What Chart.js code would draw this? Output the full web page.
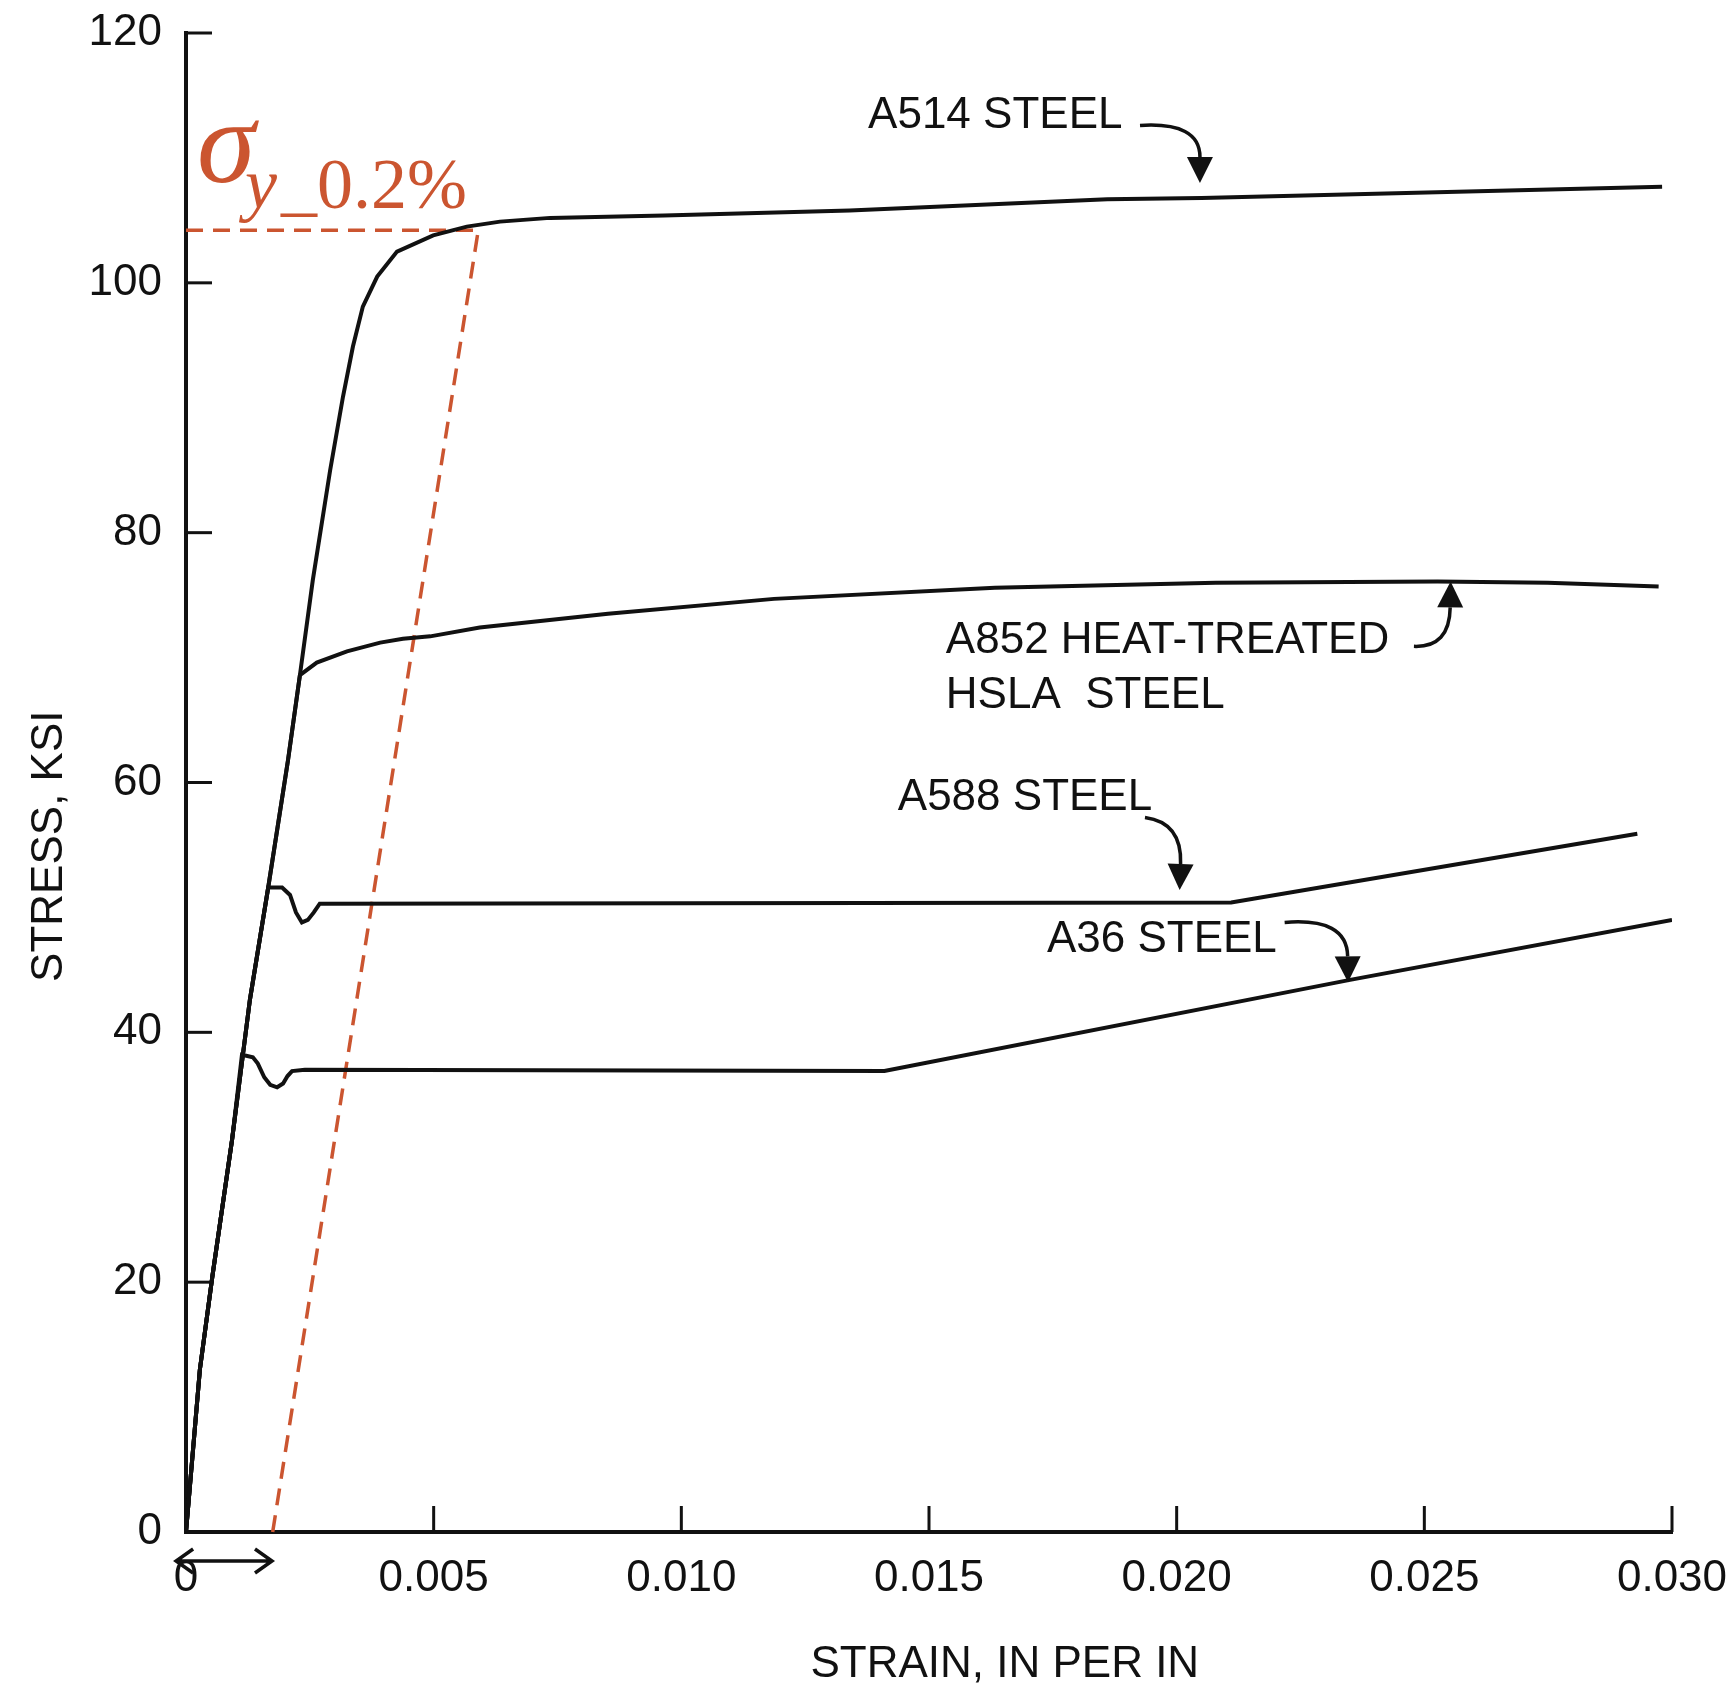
<!DOCTYPE html>
<html>
<head>
<meta charset="utf-8">
<script src="https://cdn.jsdelivr.net/npm/chart.js@4.4.1/dist/chart.umd.min.js"></script>
<style>
  html, body { margin: 0; padding: 0; background: #fff; }
  canvas { display: block; }
</style>
</head>
<body>
<canvas id="chart-canvas" width="1734" height="1689"></canvas>
<script>
// Values (strain in in/in, stress in ksi)
const xTicks = [0, 0.005, 0.010, 0.015, 0.020, 0.025, 0.030];
const yTicks = [0, 20, 40, 60, 80, 100, 120];

const a514Strain = [0, 0.00028, 0.00053, 0.00093, 0.00129, 0.00166, 0.00206, 0.00230, 0.00256, 0.00291, 0.00317, 0.00337, 0.00357, 0.00386, 0.00426, 0.00499, 0.00567, 0.00634, 0.00735, 0.00965, 0.0134, 0.0186, 0.0205, 0.0298];
const a514Stress = [0, 13.0, 20.4, 31.4, 42.6, 51.6, 61.8, 68.6, 76.2, 85.0, 90.9, 94.9, 98.1, 100.5, 102.5, 103.8, 104.5, 104.9, 105.2, 105.4, 105.8, 106.7, 106.8, 107.7];

const a852Strain = [0, 0.00028, 0.00053, 0.00093, 0.00129, 0.00166, 0.00206, 0.00230, 0.00264, 0.00325, 0.00392, 0.00438, 0.00493, 0.00593, 0.00852, 0.01187, 0.01633, 0.02079, 0.02527, 0.02749, 0.02973];
const a852Stress = [0, 13.0, 20.4, 31.4, 42.6, 51.6, 61.8, 68.6, 69.6, 70.5, 71.2, 71.5, 71.7, 72.4, 73.5, 74.7, 75.6, 76.0, 76.1, 76.0, 75.7];

const a588Strain = [0, 0.00028, 0.00053, 0.00093, 0.00129, 0.00166, 0.00194, 0.00210, 0.00222, 0.00234, 0.00246, 0.00258, 0.00270, 0.0211, 0.0293];
const a588Stress = [0, 13.0, 20.4, 31.4, 42.6, 51.6, 51.6, 51.0, 49.6, 48.8, 49.0, 49.6, 50.3, 50.4, 55.9];

const a36Strain = [0, 0.00028, 0.00053, 0.00093, 0.00113, 0.00135, 0.00145, 0.00158, 0.00170, 0.00184, 0.00196, 0.00205, 0.00214, 0.00240, 0.0141, 0.0235, 0.0300];
const a36Stress = [0, 13.0, 20.4, 31.4, 38.2, 38.0, 37.5, 36.4, 35.8, 35.6, 35.9, 36.5, 36.9, 37.0, 36.9, 44.2, 49.0];

// red 0.2% offset construction
const yieldStrain = [0, 0.0059];
const yieldStress = [104.2, 104.2];
const offsetStrain = [0.00175, 0.0059];
const offsetStress = [0, 104.2];

const INK = '#111111';
const RED = '#CB5530';
const SANS = '"Liberation Sans", Arial, Helvetica, sans-serif';
const SERIF = '"Liberation Serif", "Times New Roman", serif';

function toPoints(xs, ys){
    return xs.map((x, i) => ({x: x, y: ys[i]}));
}

function curve(label, xs, ys){
    return {
        label: label,
        data: toPoints(xs, ys),
        borderColor: INK,
        borderWidth: 4,
        pointRadius: 0,
        tension: 0,
        fill: false
    };
}

function dashed(label, xs, ys){
    return {
        label: label,
        data: toPoints(xs, ys),
        borderColor: RED,
        borderWidth: 3.5,
        borderDash: [17, 10],
        pointRadius: 0,
        tension: 0,
        fill: false,
        clip: false
    };
}

// Annotation anchors, in data units (strain, stress)
const steelLabels = [
    {text: 'A514 STEEL', at: [0.01377, 113.4]},
    {text: 'A852 HEAT-TREATED', at: [0.01534, 71.3]},
    {text: 'HSLA  STEEL', at: [0.01534, 66.9]},
    {text: 'A588 STEEL', at: [0.01437, 58.8]},
    {text: 'A36 STEEL', at: [0.01738, 47.4]}
];
// start, control, tip
const leaders = [
    [[0.01926, 112.6], [0.02047, 112.9], [0.02047, 108.0]],
    [[0.02479, 70.9], [0.02551, 70.8], [0.02553, 76.1]],
    [[0.01936, 57.2], [0.02011, 56.8], [0.02006, 51.4]],
    [[0.02218, 48.8], [0.02344, 49.2], [0.02346, 44.0]]
];

// tick marks drawn on the inside of the axes, like the original
const innerTicks = {
    id: 'innerTicks',
    afterDraw(chart){
        const ctx = chart.ctx;
        const xs = chart.scales.x, ys = chart.scales.y;
        const area = chart.chartArea;
        ctx.save();
        ctx.strokeStyle = INK;
        ctx.lineWidth = 3;
        xs.ticks.forEach(t => {
            const px = xs.getPixelForValue(t.value);
            ctx.beginPath();
            ctx.moveTo(px, area.bottom);
            ctx.lineTo(px, area.bottom - 26);
            ctx.stroke();
        });
        ys.ticks.forEach(t => {
            const py = ys.getPixelForValue(t.value);
            ctx.beginPath();
            ctx.moveTo(area.left, py);
            ctx.lineTo(area.left + 26, py);
            ctx.stroke();
        });
        ctx.restore();
    }
};

function arrowHead(ctx, tip, from, len, half){
    const dx = tip[0] - from[0], dy = tip[1] - from[1];
    const d = Math.hypot(dx, dy);
    const ux = dx / d, uy = dy / d;
    const bx = tip[0] - ux * len, by = tip[1] - uy * len;
    ctx.beginPath();
    ctx.moveTo(tip[0], tip[1]);
    ctx.lineTo(bx - uy * half, by + ux * half);
    ctx.lineTo(bx + uy * half, by - ux * half);
    ctx.closePath();
    ctx.fill();
    return [bx, by];
}

const annotations = {
    id: 'annotations',
    afterDraw(chart){
        const ctx = chart.ctx;
        const xs = chart.scales.x, ys = chart.scales.y;
        const P = (p) => [xs.getPixelForValue(p[0]), ys.getPixelForValue(p[1])];

        ctx.save();
        ctx.fillStyle = INK;
        ctx.strokeStyle = INK;

        // steel names
        ctx.font = '44px ' + SANS;
        ctx.textAlign = 'left';
        ctx.textBaseline = 'middle';
        steelLabels.forEach(l => {
            const p = P(l.at);
            ctx.fillText(l.text, p[0], p[1]);
        });

        // curved leader arrows
        ctx.lineWidth = 3.5;
        leaders.forEach(a => {
            const s = P(a[0]), c = P(a[1]), t = P(a[2]);
            const base = arrowHead(ctx, t, c, 26, 13);
            ctx.beginPath();
            ctx.moveTo(s[0], s[1]);
            ctx.quadraticCurveTo(c[0], c[1], base[0], base[1]);
            ctx.stroke();
        });

        // axis titles
        ctx.textAlign = 'center';
        const xt = P([0.01653, -10.6]);
        ctx.fillText('STRAIN, IN PER IN', xt[0], xt[1]);
        const yt = P([-0.002745, 54.9]);
        ctx.save();
        ctx.translate(yt[0], yt[1]);
        ctx.rotate(-Math.PI / 2);
        ctx.fillText('STRESS, KSI', 0, 0);
        ctx.restore();

        // double arrow under the origin (0.2% offset)
        const d0 = P([-0.0002, -2.32]), d1 = P([0.001736, -2.32]);
        ctx.lineWidth = 3.5;
        ctx.beginPath();
        ctx.moveTo(d0[0], d0[1]);
        ctx.lineTo(d1[0], d1[1]);
        ctx.moveTo(d0[0] + 17, d0[1] - 12);
        ctx.lineTo(d0[0], d0[1]);
        ctx.lineTo(d0[0] + 17, d0[1] + 12);
        ctx.moveTo(d1[0] - 17, d1[1] - 12);
        ctx.lineTo(d1[0], d1[1]);
        ctx.lineTo(d1[0] - 17, d1[1] + 12);
        ctx.stroke();

        // sigma y_0.2% label
        ctx.fillStyle = RED;
        ctx.textAlign = 'left';
        ctx.textBaseline = 'alphabetic';
        const sg = P([0.000222, 108.1]);
        ctx.font = 'italic 118px ' + SERIF;
        ctx.fillText('\u03C3', sg[0], sg[1]);
        const sy = P([0.00119, 106.0]);
        ctx.font = 'italic 72px ' + SERIF;
        ctx.fillText('y', sy[0], sy[1]);
        const sp = P([0.00192, 106.0]);
        ctx.font = '72px ' + SERIF;
        ctx.fillText('_0.2%', sp[0], sp[1]);

        ctx.restore();
    }
};

const chart = new Chart(document.getElementById('chart-canvas'), {
    type: 'line',
    data: {
        datasets: [
            curve('A514 STEEL', a514Strain, a514Stress),
            curve('A852 HEAT-TREATED HSLA STEEL', a852Strain, a852Stress),
            curve('A588 STEEL', a588Strain, a588Stress),
            curve('A36 STEEL', a36Strain, a36Stress),
            dashed('yield stress', yieldStrain, yieldStress),
            dashed('0.2% offset', offsetStrain, offsetStress)
        ]
    },
    options: {
        responsive: false,
        animation: false,
        devicePixelRatio: 1,
        layout: { padding: {top: 33, right: 62, bottom: 0, left: 0} },
        plugins: {
            legend: { display: false },
            tooltip: { enabled: false }
        },
        scales: {
            x: {
                type: 'linear',
                min: xTicks[0],
                max: xTicks[xTicks.length - 1],
                afterBuildTicks: (scale) => { scale.ticks = xTicks.map(v => ({value: v})); },
                afterFit: (scale) => {
                    scale.height = 157;
                    scale.paddingLeft = 0;
                    scale.paddingRight = 0;
                },
                grid: { display: false, drawTicks: false },
                border: { display: true, color: INK, width: 4 },
                ticks: {
                    color: INK,
                    padding: 20,
                    maxRotation: 0,
                    font: { family: SANS, size: 44 },
                    callback: (v) => v === 0 ? '0' : v.toFixed(3)
                }
            },
            y: {
                type: 'linear',
                min: yTicks[0],
                max: yTicks[yTicks.length - 1],
                afterBuildTicks: (scale) => { scale.ticks = yTicks.map(v => ({value: v})); },
                afterFit: (scale) => {
                    scale.width = 186;
                    scale.paddingTop = 0;
                    scale.paddingBottom = 0;
                },
                grid: { display: false, drawTicks: false },
                border: { display: true, color: INK, width: 4 },
                ticks: {
                    color: INK,
                    padding: 24,
                    font: { family: SANS, size: 44 }
                }
            }
        }
    },
    plugins: [innerTicks, annotations]
});
</script>
</body>
</html>
